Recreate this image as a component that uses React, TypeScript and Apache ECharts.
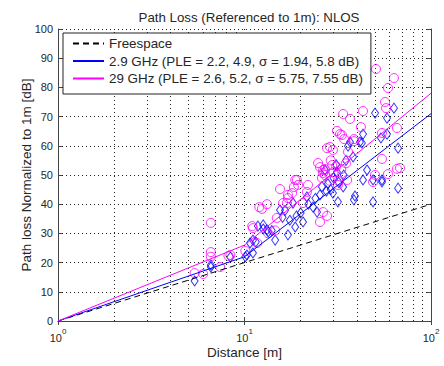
import React, { useEffect, useRef } from "react";
import * as echarts from "echarts";

const titleText = "Path Loss (Referenced to 1m): NLOS";
const xAxisName = "Distance [m]";
const yAxisName = "Path loss Normalized to 1m [dB]";
const seriesNames = [
  "Freespace",
  "2.9 GHz (PLE = 2.2, 4.9, σ = 1.94, 5.8 dB)",
  "29 GHz (PLE = 2.6, 5.2, σ = 5.75, 7.55 dB)",
];
const freespaceLine = [[1, 0], [100, 40]];
const fit2_9 = [[1, 0], [10, 22], [100, 71]];
const fit29 = [[1, 0], [10, 26], [100, 78]];
const minorGridX = [2, 3, 4, 5, 6, 7, 8, 9, 20, 30, 40, 50, 60, 70, 80, 90];

// measured points [distance m, path loss dB]
const points29 = [
  [6.6, 33.6], [6.6, 23.6], [6.6, 22.0], [5.4, 16.4], [6.0, 16.1], [7.4, 18.5],
  [8.2, 22.3], [10.1, 24.0], [8.4, 22.6], [13.2, 40.0], [12.0, 39.0], [11.0, 32.5],
  [11.7, 26.7], [14.9, 35.3], [15.5, 45.2], [12.4, 38.4], [18.7, 48.3], [19.4, 46.6],
  [18.0, 43.8], [21.6, 44.2], [16.9, 40.4], [25.4, 52.7], [26.4, 50.7], [28.7, 59.6],
  [21.9, 46.6], [18.4, 45.9], [16.1, 40.4], [17.1, 42.1], [11.1, 31.8], [20.6, 40.4],
  [26.4, 37.3], [25.4, 33.9], [24.8, 54.1], [68.2, 52.4], [58.8, 50.3], [50.1, 50.0],
  [48.9, 47.6], [35.5, 48.3], [31.7, 46.6], [31.7, 48.0], [27.0, 52.0], [29.5, 53.4],
  [19.1, 48.3], [17.1, 43.2], [27.7, 59.2], [29.8, 58.6], [35.9, 57.9], [38.6, 61.6],
  [54.6, 55.5], [65.7, 52.1], [42.1, 66.4], [31.3, 65.1], [32.5, 64.0], [33.8, 70.9],
  [36.8, 69.2], [43.2, 71.9], [58.8, 79.8], [56.7, 75.0], [65.7, 66.1], [54.6, 64.4],
  [50.7, 86.3], [63.3, 83.2], [57.4, 72.9], [33.3, 63.7], [38.6, 62.3], [34.2, 62.3],
  [26.4, 51.7], [27.0, 50.0], [28.7, 48.0], [30.0, 51.0], [31.0, 53.0], [26.0, 49.0],
  [29.0, 55.0], [33.0, 52.0], [35.0, 54.0], [27.7, 36.0], [14.6, 31.0], [13.4, 30.0],
];
const points2_9 = [
  [5.4, 13.7], [6.6, 19.2], [6.6, 18.5], [10.1, 22.0], [11.8, 32.5], [12.6, 31.5],
  [13.4, 30.5], [11.5, 27.1], [10.7, 26.7], [11.1, 23.3], [10.3, 22.6], [8.4, 21.9],
  [14.6, 27.7], [11.1, 27.7], [13.2, 31.2], [12.6, 32.9], [15.5, 38.0], [17.1, 29.5],
  [18.7, 32.2], [20.6, 33.9], [24.5, 37.3], [25.4, 43.2], [31.7, 40.8], [29.8, 43.8],
  [33.8, 45.9], [43.2, 48.3], [54.6, 47.6], [48.9, 40.8], [39.1, 42.8], [66.6, 45.5],
  [16.5, 37.9], [18.2, 40.4], [21.6, 42.5], [23.3, 39.0], [27.0, 51.7], [31.3, 51.0],
  [45.4, 51.7], [48.9, 48.3], [54.6, 48.3], [38.6, 41.5], [66.6, 59.2], [43.2, 64.0],
  [42.6, 61.0], [35.9, 59.9], [38.2, 56.2], [50.1, 71.2], [63.3, 72.9], [58.1, 69.5],
  [58.1, 64.0], [53.9, 62.7], [36.8, 61.3], [41.6, 61.3], [28.0, 47.0], [30.0, 49.0],
  [27.5, 44.5], [32.0, 47.5], [29.0, 45.0], [34.0, 50.0], [26.0, 46.0], [31.0, 53.5],
  [35.0, 55.0], [22.0, 40.0], [24.0, 42.0], [20.0, 37.0], [19.0, 36.0], [17.5, 34.5],
  [16.0, 35.5], [14.0, 31.0],
];

const FONT = "Liberation Sans, Arial, sans-serif";
const TXT = "#262626";
const AX = "#444";

export default function App() {
  const ref = useRef<HTMLDivElement>(null);
  useEffect(() => {
    const chart = echarts.init(ref.current!, null, { renderer: "svg" });
    const xLabelFmt = (v: number) => `{b|10}{s|${Math.round(Math.log10(v))}}`;
    const grid = { left: 58, top: 29, right: 13, bottom: 45 };
    chart.setOption({
      animation: false,
      backgroundColor: "#fff",
      title: {
        text: titleText,
        left: 244,
        textAlign: "center",
        top: 6,
        textStyle: { fontFamily: FONT, fontSize: 13.3, fontWeight: "normal", color: TXT },
      },
      grid,
      legend: {
        orient: "vertical",
        left: 63,
        top: 33,
        z: 20,
        data: seriesNames,
        backgroundColor: "#fff",
        borderColor: "#222",
        borderWidth: 1,
        padding: [4, 8, 9, 9],
        itemGap: 4.5,
        itemWidth: 31,
        itemHeight: 14,
        itemStyle: { opacity: 0 },
        textStyle: { fontFamily: FONT, fontSize: 13.4, color: TXT },
      },
      xAxis: [
        {
          type: "log",
          logBase: 10,
          min: 1,
          max: 100,
          name: xAxisName,
          nameLocation: "middle",
          nameGap: 24,
          nameMoveOverlap: false,
          nameTextStyle: { fontFamily: FONT, fontSize: 13.5, color: TXT },
          axisLine: { lineStyle: { color: AX } },
          axisTick: { inside: true, length: 4, lineStyle: { color: AX } },
          axisLabel: {
            formatter: xLabelFmt,
            margin: 6,
            rich: {
              b: { fontFamily: FONT, fontSize: 11, color: TXT, verticalAlign: "bottom", lineHeight: 16 },
              s: { fontFamily: FONT, fontSize: 8, color: TXT, verticalAlign: "top", lineHeight: 16 },
            },
          },
          splitLine: { show: true, lineStyle: { color: "#222", type: [1, 3] } },
        },
        {
          type: "log",
          logBase: 10,
          min: 1,
          max: 100,
          position: "top",
          axisLine: { show: true, lineStyle: { color: AX } },
          axisTick: { inside: true, length: 4, lineStyle: { color: AX } },
          axisLabel: { show: false },
          splitLine: { show: false },
        },
      ],
      yAxis: [
        {
          type: "value",
          min: 0,
          max: 100,
          interval: 10,
          name: yAxisName,
          nameLocation: "middle",
          nameGap: 25,
          nameMoveOverlap: false,
          nameRotate: 90,
          nameTextStyle: { fontFamily: FONT, fontSize: 13.5, color: TXT },
          axisLine: { show: true, lineStyle: { color: AX } },
          axisTick: { show: true, inside: true, length: 4, lineStyle: { color: AX } },
          axisLabel: { fontFamily: FONT, fontSize: 11, color: TXT, margin: 5 },
          splitLine: { show: true, lineStyle: { color: "#222", type: [1, 3] } },
        },
        {
          type: "value",
          min: 0,
          max: 100,
          interval: 10,
          position: "right",
          axisLine: { show: true, lineStyle: { color: AX } },
          axisTick: { show: true, inside: true, length: 4, lineStyle: { color: AX } },
          axisLabel: { show: false },
          splitLine: { show: false },
        },
      ],
      series: [
        {
          type: "line",
          name: "minorGrid",
          data: [],
          silent: true,
          z: 1,
          markLine: {
            silent: true,
            symbol: "none",
            label: { show: false },
            lineStyle: { color: "#222", type: [1, 3], width: 1 },
            data: minorGridX.map((v) => ({ xAxis: v })),
          },
        },
        {
          type: "scatter",
          name: "pts2_9",
          data: points2_9,
          symbol: "diamond",
          symbolSize: [7, 10],
          itemStyle: { color: "rgba(0,0,0,0)", borderColor: "#0000ff", borderWidth: 1 },
          z: 3,
        },
        {
          type: "scatter",
          name: "pts29",
          data: points29,
          symbol: "circle",
          symbolSize: 9,
          itemStyle: { color: "rgba(0,0,0,0)", borderColor: "#ff00ff", borderWidth: 1 },
          z: 3,
        },
        {
          type: "line",
          name: seriesNames[0],
          data: freespaceLine,
          symbol: "none",
          lineStyle: { color: "#000", width: 1, type: [6, 4] },
          itemStyle: { color: "#000" },
          z: 5,
        },
        {
          type: "line",
          name: seriesNames[1],
          data: fit2_9,
          symbol: "none",
          lineStyle: { color: "#0000ff", width: 1 },
          itemStyle: { color: "#0000ff" },
          z: 5,
        },
        {
          type: "line",
          name: seriesNames[2],
          data: fit29,
          symbol: "none",
          lineStyle: { color: "#ff00ff", width: 1 },
          itemStyle: { color: "#ff00ff" },
          z: 5,
        },
      ],
    });
    return () => chart.dispose();
  }, []);
  return (
    <div
      ref={ref}
      style={{ position: "fixed", left: 0, top: 0, width: 444, height: 366, background: "#fff" }}
    />
  );
}
